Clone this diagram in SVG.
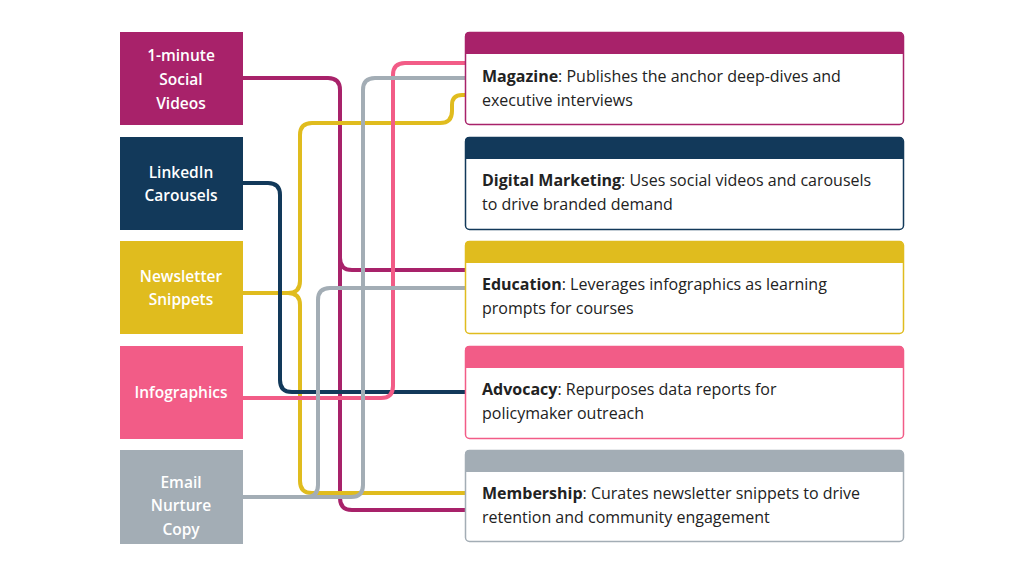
<svg xmlns="http://www.w3.org/2000/svg" width="1024" height="576" viewBox="0 0 1024 576">
<style>
.lt{font-family:"Open Sans","Noto Sans",sans-serif;font-size:15.5px;font-weight:600;fill:#fff;text-anchor:middle}
.rt{font-family:"Open Sans","Noto Sans",sans-serif;font-size:16px;fill:#222}
.rt tspan.b{font-weight:bold}
.c{fill:none;stroke-width:4;stroke-linejoin:round}
.card{fill:#fff;stroke-width:1.5}
</style>
<rect width="1024" height="576" fill="#fff"/>
<g id="connectors">
<path class="c" stroke="#A8226A" d="M243 78H328Q340 78 340 90V258Q340 270 352 270H465"/>
<path class="c" stroke="#A8226A" d="M340 258V498Q340 510 352 510H465"/>
<path class="c" stroke="#E0BC1E" d="M243 293H288Q300 293 300 281V135Q300 123 312 123H440Q452 123 452 111V105Q452 95 462 95H465"/>
<path class="c" stroke="#E0BC1E" d="M288 293Q300 293 300 305V481Q300 493 312 493H465"/>
<path class="c" stroke="#12395A" d="M243 183H268Q280 183 280 195V380Q280 392 292 392H465"/>
<path class="c" stroke="#F25C87" d="M243 398H381Q393 398 393 386V75Q393 63 405 63H465"/>
<path class="c" stroke="#A3ADB5" d="M243 497H351Q363 497 363 485V90Q363 78 375 78H465"/>
<path class="c" stroke="#A3ADB5" d="M306 497Q318 497 318 485V300Q318 288 330 288H465"/>
</g>
<g id="src1"><rect x="120" y="32" width="123" height="93" fill="#A8226A"/><text class="lt" x="181" y="61">1-minute</text><text class="lt" x="181" y="85">Social</text><text class="lt" x="181" y="109">Videos</text></g>
<g id="src2"><rect x="120" y="137" width="123" height="93" fill="#12395A"/><text class="lt" x="181" y="178">LinkedIn</text><text class="lt" x="181" y="201">Carousels</text></g>
<g id="src3"><rect x="120" y="241" width="123" height="93" fill="#E0BC1E"/><text class="lt" x="181" y="282">Newsletter</text><text class="lt" x="181" y="305">Snippets</text></g>
<g id="src4"><rect x="120" y="346" width="123" height="93" fill="#F25C87"/><text class="lt" x="181" y="398">Infographics</text></g>
<g id="src5"><rect x="120" y="450" width="123" height="94" fill="#A3ADB5"/><text class="lt" x="181" y="488">Email</text><text class="lt" x="181" y="511">Nurture</text><text class="lt" x="181" y="535">Copy</text></g>
<g id="dst1"><rect class="card" x="465.5" y="32.5" width="438" height="92" rx="4" stroke="#A8226A"/><path d="M465 54V36Q465 32 469 32H899Q903 32 903 36V54Z" fill="#A8226A"/>
<text class="rt" x="482" y="82"><tspan class="b">Magazine</tspan>: Publishes the anchor deep-dives and</text><text class="rt" x="482" y="106">executive interviews</text></g>
<g id="dst2"><rect class="card" x="465.5" y="137.5" width="438" height="92" rx="4" stroke="#12395A"/><path d="M465 159V141Q465 137 469 137H899Q903 137 903 141V159Z" fill="#12395A"/>
<text class="rt" x="482" y="186"><tspan class="b">Digital Marketing</tspan>: Uses social videos and carousels</text><text class="rt" x="482" y="210">to drive branded demand</text></g>
<g id="dst3"><rect class="card" x="465.5" y="241.5" width="438" height="92" rx="4" stroke="#E0BC1E"/><path d="M465 263V245Q465 241 469 241H899Q903 241 903 245V263Z" fill="#E0BC1E"/>
<text class="rt" x="482" y="290"><tspan class="b">Education</tspan>: Leverages infographics as learning</text><text class="rt" x="482" y="314">prompts for courses</text></g>
<g id="dst4"><rect class="card" x="465.5" y="346.5" width="438" height="92" rx="4" stroke="#F25C87"/><path d="M465 368V350Q465 346 469 346H899Q903 346 903 350V368Z" fill="#F25C87"/>
<text class="rt" x="482" y="395"><tspan class="b">Advocacy</tspan>: Repurposes data reports for</text><text class="rt" x="482" y="419">policymaker outreach</text></g>
<g id="dst5"><rect class="card" x="465.5" y="450.5" width="438" height="91" rx="4" stroke="#A3ADB5"/><path d="M465 472V454Q465 450 469 450H899Q903 450 903 454V472Z" fill="#A3ADB5"/>
<text class="rt" x="482" y="499"><tspan class="b">Membership</tspan>: Curates newsletter snippets to drive</text><text class="rt" x="482" y="523">retention and community engagement</text></g>
</svg>
